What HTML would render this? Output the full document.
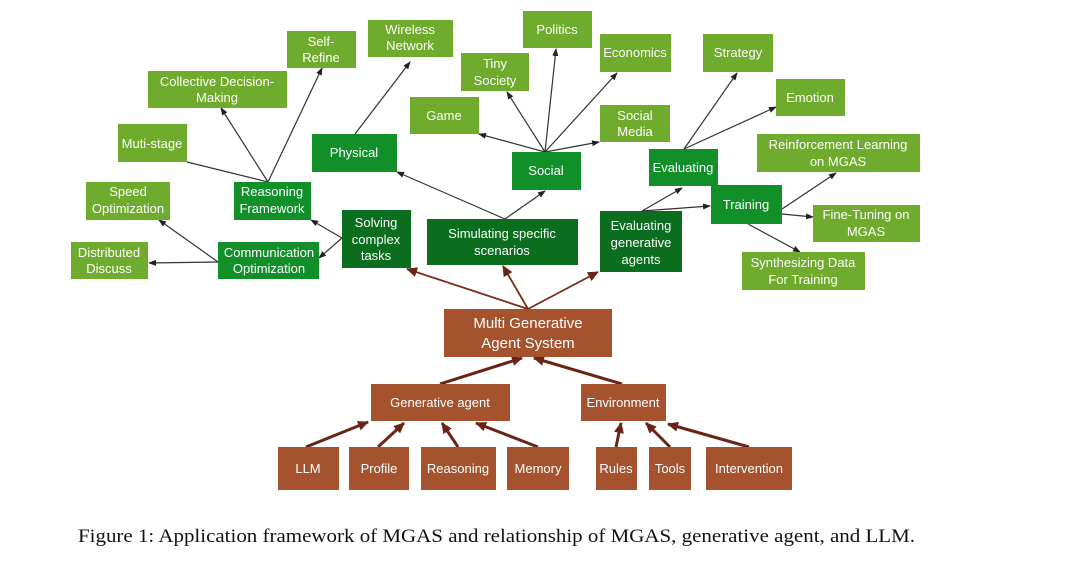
<!DOCTYPE html>
<html><head><meta charset="utf-8"><style>
html,body{margin:0;padding:0;background:#fff;width:1080px;height:563px;overflow:hidden}
text{font-family:"Liberation Sans",sans-serif;fill:#fff;font-size:13px;text-anchor:middle}
.l{fill:#6fab2c}.d{fill:#11902a}.k{fill:#0a6e1e}.b{fill:#a4532e}
</style></head><body>
<svg width="1080" height="563" viewBox="0 0 1080 563" xmlns="http://www.w3.org/2000/svg">
<defs>
<marker id="a" markerWidth="8" markerHeight="8" refX="7" refY="4" orient="auto" markerUnits="userSpaceOnUse"><path d="M0,1 L8,4 L0,7 z" fill="#222"/></marker>
<marker id="r" markerWidth="12" markerHeight="12" refX="10" refY="6" orient="auto" markerUnits="userSpaceOnUse"><path d="M0,1 L11,6 L0,11 z" fill="#6a2416"/></marker>
</defs>
<g stroke="#333" stroke-width="1.2" fill="none" marker-end="url(#a)">
<line x1="342" y1="238" x2="311" y2="220"/>
<line x1="342" y1="238" x2="319" y2="258"/>
<line x1="218" y1="262" x2="149" y2="263"/>
<line x1="218" y1="262" x2="159" y2="220"/>
<line x1="268" y1="182" x2="221" y2="108"/>
<line x1="268" y1="182" x2="322" y2="68"/>
<line x1="505" y1="219" x2="397" y2="172"/>
<line x1="505" y1="219" x2="545" y2="191"/>
<line x1="355" y1="134" x2="410" y2="62"/>
<line x1="545" y1="152" x2="479" y2="134"/>
<line x1="545" y1="152" x2="507" y2="92"/>
<line x1="545" y1="152" x2="556" y2="49"/>
<line x1="545" y1="152" x2="617" y2="73"/>
<line x1="545" y1="152" x2="599" y2="142"/>
<line x1="642" y1="211" x2="682" y2="188"/>
<line x1="642" y1="211" x2="710" y2="206"/>
<line x1="684" y1="149" x2="737" y2="73"/>
<line x1="684" y1="149" x2="776" y2="107"/>
<line x1="782" y1="209" x2="836" y2="173"/>
<line x1="782" y1="214" x2="813" y2="217"/>
<line x1="748" y1="224" x2="800" y2="252"/>
</g>
<line x1="268" y1="182" x2="187" y2="162" stroke="#333" stroke-width="1.2"/>
<g stroke="#7a2e1c" stroke-width="1.8" fill="none" marker-end="url(#r)">
<line x1="528" y1="309" x2="407" y2="269"/>
<line x1="528" y1="309" x2="503" y2="266"/>
<line x1="528" y1="309" x2="598" y2="272"/>
</g>
<g stroke="#6a2416" stroke-width="3" fill="none" marker-end="url(#r)">
<line x1="440" y1="384" x2="522" y2="358"/>
<line x1="622" y1="384" x2="534" y2="358"/>
<line x1="306" y1="447" x2="368" y2="422"/>
<line x1="378" y1="447" x2="404" y2="423"/>
<line x1="458" y1="447" x2="442" y2="423"/>
<line x1="538" y1="447" x2="476" y2="423"/>
<line x1="616" y1="447" x2="621" y2="423"/>
<line x1="670" y1="447" x2="646" y2="423"/>
<line x1="749" y1="447" x2="668" y2="424"/>
</g>
<!-- light green -->
<rect class="l" x="287" y="31" width="69" height="37"/><text x="321" y="46">Self-</text><text x="321" y="62">Refine</text>
<rect class="l" x="368" y="20" width="85" height="37"/><text x="410" y="34">Wireless</text><text x="410" y="50">Network</text>
<rect class="l" x="148" y="71" width="139" height="37"/><text x="217" y="86">Collective Decision-</text><text x="217" y="102">Making</text>
<rect class="l" x="118" y="124" width="69" height="38"/><text x="152" y="148">Muti-stage</text>
<rect class="l" x="86" y="182" width="84" height="38"/><text x="128" y="196">Speed</text><text x="128" y="213">Optimization</text>
<rect class="l" x="71" y="242" width="77" height="37"/><text x="109" y="257">Distributed</text><text x="109" y="273">Discuss</text>
<rect class="l" x="410" y="97" width="69" height="37"/><text x="444" y="120">Game</text>
<rect class="l" x="461" y="53" width="68" height="38"/><text x="495" y="68">Tiny</text><text x="495" y="85">Society</text>
<rect class="l" x="523" y="11" width="69" height="37"/><text x="557" y="34">Politics</text>
<rect class="l" x="600" y="34" width="71" height="38"/><text x="635" y="57">Economics</text>
<rect class="l" x="600" y="105" width="70" height="37"/><text x="635" y="120">Social</text><text x="635" y="136">Media</text>
<rect class="l" x="703" y="34" width="70" height="38"/><text x="738" y="57">Strategy</text>
<rect class="l" x="776" y="79" width="69" height="37"/><text x="810" y="102">Emotion</text>
<rect class="l" x="757" y="134" width="163" height="38"/><text x="838" y="149">Reinforcement Learning</text><text x="838" y="166">on MGAS</text>
<rect class="l" x="813" y="205" width="107" height="37"/><text x="866" y="219">Fine-Tuning on</text><text x="866" y="236">MGAS</text>
<rect class="l" x="742" y="252" width="123" height="38"/><text x="803" y="267">Synthesizing Data</text><text x="803" y="284">For Training</text>
<!-- dark green -->
<rect class="d" x="312" y="134" width="85" height="38"/><text x="354" y="157">Physical</text>
<rect class="d" x="234" y="182" width="77" height="38"/><text x="272" y="196">Reasoning</text><text x="272" y="213">Framework</text>
<rect class="d" x="218" y="242" width="101" height="37"/><text x="269" y="257">Communication</text><text x="269" y="273">Optimization</text>
<rect class="d" x="512" y="152" width="69" height="38"/><text x="546" y="175">Social</text>
<rect class="d" x="649" y="149" width="69" height="37"/><text x="683" y="172">Evaluating</text>
<rect class="d" x="711" y="185" width="71" height="39"/><text x="746" y="209">Training</text>
<rect class="k" x="342" y="210" width="69" height="58"/><text x="376" y="227">Solving</text><text x="376" y="244">complex</text><text x="376" y="260">tasks</text>
<rect class="k" x="427" y="219" width="151" height="46"/><text x="502" y="238">Simulating specific</text><text x="502" y="255">scenarios</text>
<rect class="k" x="600" y="211" width="82" height="61"/><text x="641" y="230">Evaluating</text><text x="641" y="247">generative</text><text x="641" y="264">agents</text>
<!-- brown -->
<rect class="b" x="444" y="309" width="168" height="48"/><text x="528" y="328" style="font-size:15px">Multi Generative</text><text x="528" y="348" style="font-size:15px">Agent System</text>
<rect class="b" x="371" y="384" width="139" height="37"/><text x="440" y="407">Generative agent</text>
<rect class="b" x="581" y="384" width="85" height="37"/><text x="623" y="407">Environment</text>
<rect class="b" x="278" y="447" width="61" height="43"/><text x="308" y="473">LLM</text>
<rect class="b" x="349" y="447" width="60" height="43"/><text x="379" y="473">Profile</text>
<rect class="b" x="421" y="447" width="75" height="43"/><text x="458" y="473">Reasoning</text>
<rect class="b" x="507" y="447" width="62" height="43"/><text x="538" y="473">Memory</text>
<rect class="b" x="596" y="447" width="41" height="43"/><text x="616" y="473">Rules</text>
<rect class="b" x="649" y="447" width="42" height="43"/><text x="670" y="473">Tools</text>
<rect class="b" x="706" y="447" width="86" height="43"/><text x="749" y="473">Intervention</text>
<text x="78" y="542" style="font-family:'Liberation Serif',serif;font-size:19px;fill:#111;text-anchor:start" textLength="837" lengthAdjust="spacingAndGlyphs">Figure 1: Application framework of MGAS and relationship of MGAS, generative agent, and LLM.</text>
</svg>
</body></html>
